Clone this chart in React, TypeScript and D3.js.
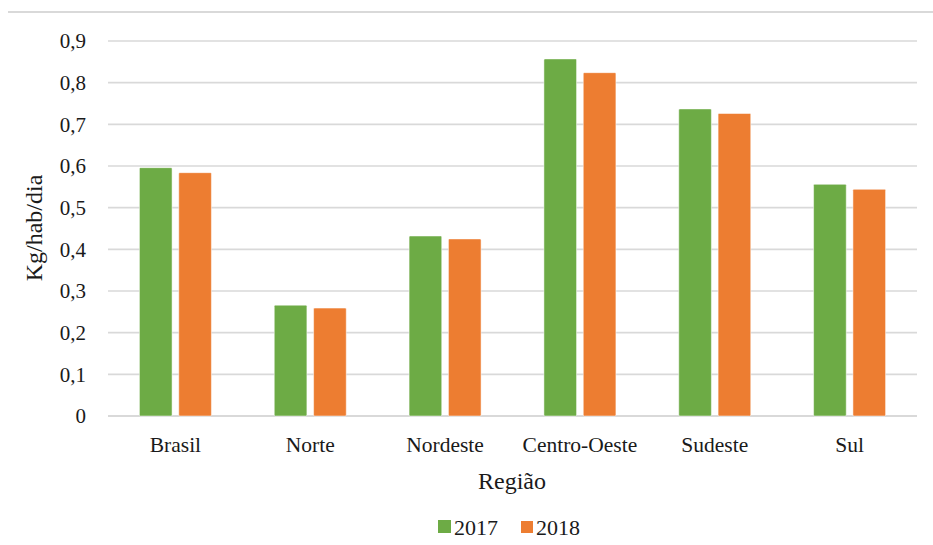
import React from "react";
import * as d3 from "d3";

const regions = ["Brasil", "Norte", "Nordeste", "Centro-Oeste", "Sudeste", "Sul"];
const series = ["2017", "2018"];
const values2017 = [0.596, 0.266, 0.432, 0.857, 0.737, 0.556];
const values2018 = [0.584, 0.259, 0.425, 0.824, 0.726, 0.544];
const yTicks = [0, 0.1, 0.2, 0.3, 0.4, 0.5, 0.6, 0.7, 0.8, 0.9];
const colors = ["#6DAB45", "#ED7D31"];

const App = () => {
  const width = 933;
  const height = 545;
  const margin = { top: 41, right: 16, bottom: 129, left: 108 };
  const innerW = width - margin.left - margin.right;
  const innerH = height - margin.top - margin.bottom;

  const x = d3.scaleBand().domain(regions).range([0, innerW]).paddingInner(0).paddingOuter(0);
  const x1 = d3.scaleBand().domain(series).range([0, 72]).paddingInner(0.17);
  const y = d3.scaleLinear().domain([0, 0.9]).range([innerH, 0]);
  const fmt = (v: number) => (v === 0 ? "0" : d3.format(".1f")(v).replace(".", ","));

  const data = [values2017, values2018];

  // note: letter-spacing / dx lists make the renderer drop the serif font, so none here
  return (
    <svg
      width={width}
      height={height}
      fontFamily="Liberation Serif"
      fill="#1a1a1a"
      style={{ position: "absolute", left: 0, top: 0, background: "#fff" }}
    >
      <line x1={8} x2={width} y1={12} y2={12} stroke="#d9d9d9" strokeWidth={2} />
      <g transform={`translate(${margin.left},${margin.top})`}>
        {yTicks.map((t) => (
          <g key={t}>
            <line x1={0} x2={innerW} y1={y(t)} y2={y(t)} stroke="#d9d9d9" strokeWidth={t === 0 ? 2 : 1.6} />
            <text x={-22} y={y(t)} dy="0.35em" textAnchor="end" fontSize={21}>
              {fmt(t)}
            </text>
          </g>
        ))}
        {regions.map((r, i) => (
          <g key={r} transform={`translate(${(x(r) || 0) + x.bandwidth() / 2 - 36},0)`}>
            {series.map((s, j) => (
              <rect
                key={s}
                x={x1(s) || 0}
                y={y(data[j][i])}
                width={x1.bandwidth()}
                height={innerH - y(data[j][i])}
                fill={colors[j]}
                stroke="#ffffff"
                strokeOpacity={0.5}
                strokeWidth={1}
                rx={1}
              />
            ))}
          </g>
        ))}
        {regions.map((r) => (
          <text key={r} x={(x(r) || 0) + x.bandwidth() / 2} y={innerH + 36} textAnchor="middle" fontSize={21.5}>
            {r}
          </text>
        ))}
      </g>
      <text x={512} y={489} textAnchor="middle" fontSize={24}>
        Região
      </text>
      <text transform="translate(42,228) rotate(-90)" textAnchor="middle" fontSize={24}>
        Kg/hab/dia
      </text>
      <g>
        <rect x={438} y={520} width={13} height={13} fill={colors[0]} />
        <text x={454} y={535} fontSize={22}>
          {series[0]}
        </text>
        <rect x={521} y={521} width={12} height={12} fill={colors[1]} />
        <text x={536} y={535} fontSize={22}>
          {series[1]}
        </text>
      </g>
    </svg>
  );
};

export default App;
